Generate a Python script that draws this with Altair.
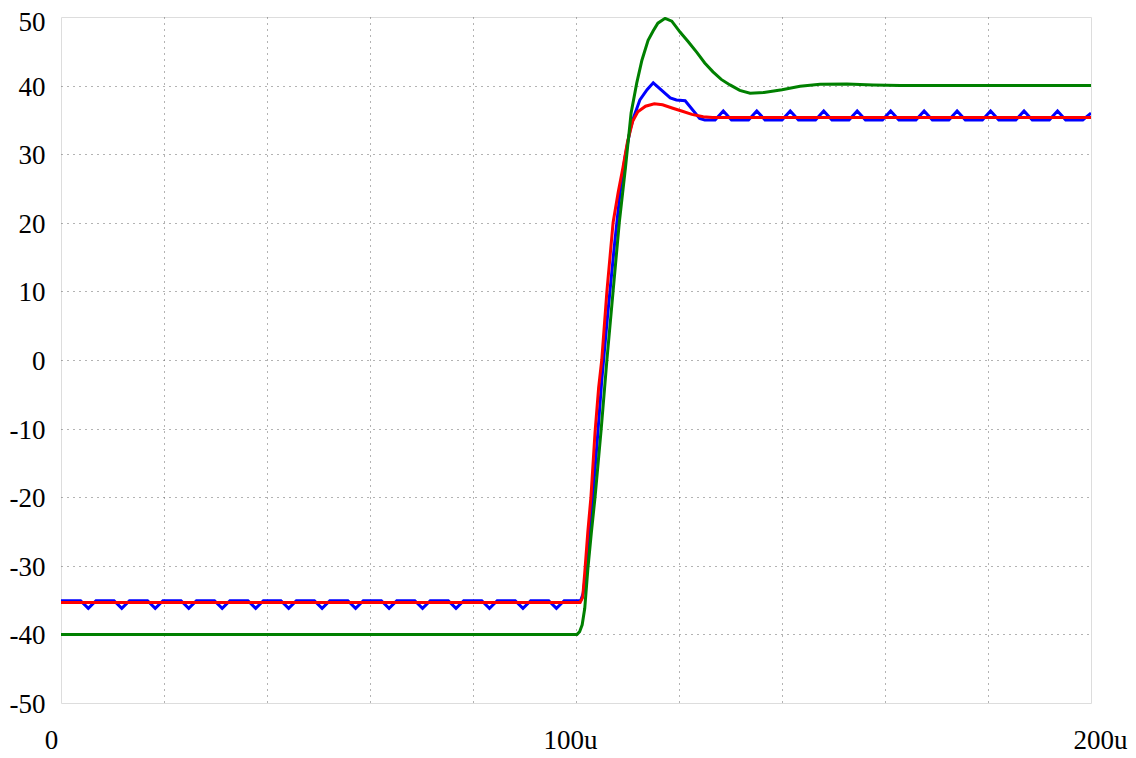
import altair as alt
import pandas as pd

# ---- data ----
x_ticks = [0, 20, 40, 60, 80, 100, 120, 140, 160, 180, 200]
y_ticks = [-50, -40, -30, -20, -10, 0, 10, 20, 30, 40, 50]

blue_t = [0, 3.8, 5.3, 6.8, 10.3, 11.8, 13.3, 16.8, 18.3, 19.8, 23.3, 24.8, 26.3,
          29.8, 31.3, 32.8, 36.3, 37.8, 39.3, 42.7, 44.2, 45.7, 49.2, 50.7, 52.2,
          55.7, 57.2, 58.7, 62.2, 63.7, 65.2, 68.7, 70.2, 71.7, 75.2, 76.7, 78.2,
          81.7, 83.2, 84.7, 88.2, 89.7, 91.2, 94.7, 96.2, 97.7,
          100.9, 101.4, 101.9, 102.5, 103.2, 104.1, 105.0, 106.2, 107.5, 108.5,
          109.5, 110.5, 111.2, 112.4, 113.8, 115.0, 118.3, 119.5, 121.2, 124.0, 125.0,
          127.0, 128.6, 130.2, 133.5, 135.1, 136.7, 140.0, 141.6, 143.2, 146.5, 148.1,
          149.7, 153.0, 154.6, 156.2, 159.5, 161.1, 162.7, 166.0, 167.6, 169.2, 172.4,
          174.0, 175.6, 178.9, 180.5, 182.1, 185.4, 187.0, 188.6, 191.9, 193.5, 195.1,
          198.4, 200.0]
blue_v = [-35.1, -35.1, -36.2, -35.1, -35.1, -36.2, -35.1, -35.1, -36.2, -35.1, -35.1, -36.2, -35.1,
          -35.1, -36.2, -35.1, -35.1, -36.2, -35.1, -35.1, -36.2, -35.1, -35.1, -36.2, -35.1,
          -35.1, -36.2, -35.1, -35.1, -36.2, -35.1, -35.1, -36.2, -35.1, -35.1, -36.2, -35.1,
          -35.1, -36.2, -35.1, -35.1, -36.2, -35.1, -35.1, -36.2, -35.1,
          -35.1, -34.0, -31.0, -26.0, -20.5, -12.0, -3.0, 7.0, 17.0, 24.0,
          29.5, 33.5, 35.4, 37.9, 39.4, 40.4, 38.2, 37.9, 37.8, 35.2, 35.0,
          35.0, 36.3, 35.0, 35.0, 36.3, 35.0, 35.0, 36.3, 35.0, 35.0, 36.3,
          35.0, 35.0, 36.3, 35.0, 35.0, 36.3, 35.0, 35.0, 36.3, 35.0, 35.0,
          36.3, 35.0, 35.0, 36.3, 35.0, 35.0, 36.3, 35.0, 35.0, 36.3, 35.0,
          35.0, 36.0]

red_t = [0, 100.8, 101.3, 101.7, 102.3, 102.9, 103.7, 104.4, 105.0, 106.0, 107.2,
         108.2, 109.1, 110.0, 111.0, 112.0, 113.5, 115.2, 116.8, 118.8, 120.5, 122.5,
         124.7, 126.5, 200]
red_v = [-35.35, -35.35, -34.6, -31.0, -25.0, -20.0, -10.5, -4.0, 0.0, 10.0, 20.0,
         24.5, 28.0, 31.8, 34.8, 36.2, 37.0, 37.35, 37.2, 36.7, 36.3, 35.8,
         35.45, 35.35, 35.35]

green_t = [0, 100.2, 100.7, 101.2, 101.7, 102.3, 103.0, 103.7, 104.3, 104.9, 106.0,
           107.2, 108.4, 109.6, 110.7, 111.8, 112.8, 114.0, 115.0, 115.9, 117.3, 118.6,
           120.2, 121.8, 123.5, 125.0, 126.6, 128.2, 129.9, 131.8, 133.8, 136.5, 140.0,
           143.5, 147.4, 152.6, 157.7, 163.0, 200]
green_v = [-40.0, -40.0, -39.6, -38.6, -36.2, -30.5, -25.0, -20.0, -15.0, -10.0, 0.0,
           10.0, 20.0, 28.0, 36.0, 40.4, 43.7, 46.6, 48.0, 49.1, 49.8, 49.4,
           47.8, 46.4, 44.8, 43.3, 42.0, 40.9, 40.1, 39.3, 38.9, 39.0, 39.4,
           39.9, 40.2, 40.25, 40.1, 40.0, 40.0]


def frame(t, v):
    return pd.DataFrame({"t": t, "v": v, "i": range(len(t))})


serif = "Liberation Serif"

x_axis = alt.Axis(
    values=x_ticks,
    labelExpr="datum.value == 0 ? '0' : (datum.value % 100 == 0 ? datum.value + 'u' : '')",
    ticks=False, domain=False, title=None,
    grid=True, gridDash=[1, 5], gridColor="#666666", gridWidth=1,
    gridOpacity={"condition": {"test": "datum.value == 0 || datum.value == 200", "value": 0}, "value": 1},
    labelFont=serif, labelFontSize=27, labelColor="black", labelPadding=24,
    labelFlush=False, labelOverlap=False,
    labelOffset={"condition": [{"test": "datum.value == 0", "value": -10},
                               {"test": "datum.value == 200", "value": 9}], "value": -6},
)
y_axis = alt.Axis(
    values=y_ticks,
    labelExpr="'' + datum.value",
    ticks=False, domain=False, title=None,
    grid=True, gridDash=[1, 5], gridColor="#666666", gridWidth=1,
    gridOpacity={"condition": {"test": "abs(datum.value) == 50", "value": 0}, "value": 1},
    labelFont=serif, labelFontSize=27, labelColor="black", labelPadding=16,
    labelFlush=False, labelOverlap=False,
    labelOffset={"condition": {"test": "datum.value == 50", "value": 5}, "value": 1.5},
)

xs = alt.Scale(domain=[0, 200], nice=False, zero=False)
ys = alt.Scale(domain=[-50, 50], nice=False, zero=False)


def line(df, color):
    return alt.Chart(df).mark_line(color=color, strokeWidth=3, clip=True).encode(
        x=alt.X("t:Q", scale=xs, axis=x_axis),
        y=alt.Y("v:Q", scale=ys, axis=y_axis),
        order="i:Q",
    )


chart = alt.layer(
    line(frame(blue_t, blue_v), "#0000ff"),
    line(frame(red_t, red_v), "#ff0000"),
    line(frame(green_t, green_v), "#008000"),
).properties(
    width=1030, height=686,
    autosize=alt.AutoSizeParams(type="none"),
    padding={"left": 53, "top": 9, "right": 37, "bottom": 54},
).configure_view(
    stroke="#a8a8a8", strokeWidth=1.5
).configure(background="white")

chart.save("out.html", embed_options={"renderer": "svg", "actions": False})
